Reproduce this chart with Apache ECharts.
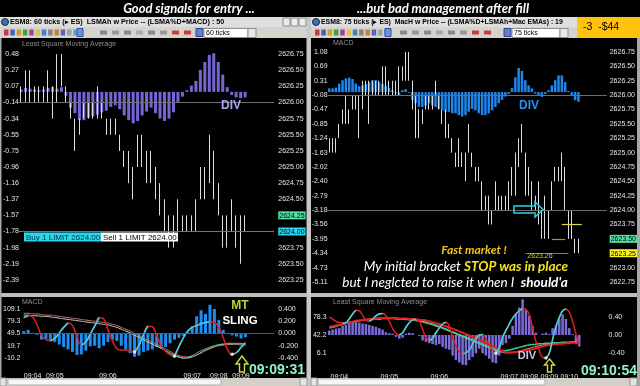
<!DOCTYPE html>
<html><head><meta charset="utf-8">
<script src="https://cdn.jsdelivr.net/npm/echarts@6/dist/echarts.min.js"></script>
<style>html,body{margin:0;padding:0;background:#000;}#c{width:640px;height:386px;}</style>
</head><body><div id="c"></div>
<script>
// ---------------- DATA ----------------
// Left window (60 tick bars)
const leftLow  = [2626.00,2626.00,2626.00,2626.00,2626.00,2626.00,2626.00,2625.75,2626.00,2626.25,2626.00,2625.75,2625.25,2625.50,2625.75,2625.75,2625.75,2625.75,2625.75,2625.50,2625.50,2625.50,2625.25,2625.00,2624.75,2624.50,2625.00,2625.00,2624.75,2624.75,2624.50,2624.25,2624.00,2623.75,2623.75,2624.00,2624.00,2624.00,2624.00,2624.00,2624.50,2624.50,2624.75,2624.50,2624.25,2623.75,2623.75,2624.00,2623.75,2623.50,2624.00];
const leftHigh = [2626.25,2626.50,2626.50,2626.25,2626.25,2626.25,2626.50,2626.25,2626.75,2626.75,2626.25,2626.00,2625.75,2625.75,2626.00,2626.00,2626.00,2626.25,2626.00,2625.75,2625.75,2625.75,2625.50,2625.25,2625.25,2625.00,2625.50,2625.50,2625.25,2625.25,2625.00,2624.75,2624.50,2624.25,2624.25,2624.50,2624.25,2624.25,2624.25,2624.50,2625.00,2625.00,2625.50,2625.25,2624.75,2624.25,2624.25,2624.50,2624.25,2624.25,2624.25];
const leftHist = [0.03,0.05,0.04,0.03,0.02,0.03,0.05,0.06,0.04,0.06,-0.05,-0.20,-0.27,-0.36,-0.36,-0.33,-0.31,-0.29,-0.26,-0.24,-0.19,-0.17,-0.22,-0.30,-0.36,-0.40,-0.37,-0.30,-0.25,-0.20,-0.27,-0.34,-0.37,-0.34,-0.26,-0.14,-0.06,0.02,0.08,0.14,0.28,0.38,0.47,0.49,0.38,0.22,0.06,-0.04,-0.07,-0.08,-0.07];
const leftMacdHist = [0.04,0.06,0.01,-0.02,-0.10,-0.09,-0.11,-0.14,-0.18,-0.22,-0.26,-0.30,-0.35,-0.34,-0.28,-0.21,-0.20,-0.24,-0.20,-0.14,-0.10,-0.12,-0.20,-0.26,-0.32,-0.38,-0.36,-0.30,-0.28,-0.26,-0.22,-0.24,-0.22,-0.16,-0.10,-0.07,-0.04,0.02,0.12,0.28,0.38,0.32,0.47,0.40,0.22,0.06,0.00,-0.03,-0.05,-0.08,-0.06];
const leftOsc = [0.26,0.29,0.27,0.14,-0.03,-0.10,-0.12,-0.08,0.01,0.10,0.17,0.13,-0.05,-0.19,-0.14,-0.01,0.12,0.26,0.24,0.06,-0.12,-0.25,-0.27,-0.27,-0.29,-0.30,-0.19,-0.02,0.12,0.11,-0.03,-0.20,-0.29,-0.35,-0.37,-0.21,-0.07,0.04,0.10,0.13,0.16,0.18,0.19,0.18,0.10,-0.07,-0.27,-0.34,-0.31,-0.23,-0.15];
const leftSlowA = [0.33,0.33,0.32,0.32,0.31,0.30,0.30,0.29,0.28,0.27,0.26,0.25,0.24,0.23,0.22,0.21,0.20,0.19,0.18,0.17,0.15,0.13,0.10,0.07,0.04,0.00,-0.03,-0.07,-0.11,-0.14,-0.18,-0.21,-0.25,-0.29,-0.33,-0.36,-0.38,-0.38,-0.37,-0.35,-0.32,-0.28,-0.25,-0.22,-0.20,-0.19,-0.18,-0.18,-0.18,-0.19,-0.19];
const leftSlowB = [0.30,0.30,0.29,0.29,0.28,0.28,0.27,0.26,0.25,0.24,0.23,0.22,0.21,0.20,0.19,0.18,0.17,0.16,0.15,0.14,0.12,0.10,0.07,0.04,0.01,-0.03,-0.06,-0.10,-0.14,-0.17,-0.21,-0.24,-0.28,-0.32,-0.35,-0.38,-0.40,-0.40,-0.38,-0.35,-0.31,-0.27,-0.24,-0.21,-0.19,-0.18,-0.17,-0.17,-0.17,-0.17,-0.18];
const leftSlowG = [null,null,null,null,null,null,null,null,null,null,null,null,null,null,null,null,null,null,null,null,null,null,null,null,null,null,null,null,null,null,-0.20,-0.24,-0.28,-0.32,-0.36,-0.39,-0.40,-0.39,-0.36,-0.32,-0.28,-0.25,-0.22,-0.20,-0.18,-0.17,-0.16,-0.16,-0.16,-0.16,-0.17];
const leftSignals = [25,34,47];
const leftBarCount = 57;
const leftPriceTicks = ['2623.25','2623.50','2623.75','2624.00','2624.25','2624.50','2624.75','2625.00','2625.25','2625.50','2625.75','2626.00','2626.25','2626.50','2626.75'];
const leftMacdTicks  = ['-2.39','-2.19','-1.98','-1.78','-1.57','-1.37','-1.16','-0.96','-0.75','-0.55','-0.34','-0.14','0.07','0.27','0.48'];
const leftPriceTags = {'2624.25':'g','2624.00':'c'};
const leftBottomVals = [-0.4,-0.2,0,0.2,0.4];
const leftBottomRight = ['-0.400','-0.200','0.000','0.200','0.400'];
const leftBottomLeft  = ['-10.2','19.7','49.5','79.3','109.1'];
const leftTimeIdx = [2,7,19,38,44,49];
const leftTimes = ['09:04','09:05','09:06','09:07','09:08','09:09'];

// Right window (75 tick bars)
const rightLow  = [2625.00,2625.00,2625.00,2625.25,2625.50,2625.50,2625.50,2625.75,2625.75,2625.25,2625.75,2626.00,2625.50,2626.00,2626.00,2626.00,2626.00,2626.00,2626.00,2626.00,2626.00,2626.00,2626.25,2626.25,2626.25,2625.75,2625.25,2625.25,2625.50,2625.75,2625.75,2625.75,2626.00,2625.75,2625.50,2625.25,2625.25,2625.00,2624.75,2624.75,2624.75,2624.50,2625.00,2624.75,2624.50,2624.50,2624.00,2624.00,2623.75,2623.75,2624.00,2624.00,2624.00,2624.00,2624.00,2624.25,2624.25,2624.75,2625.00,2624.25,2624.25,2624.00,2624.00,2623.75,2623.50,2623.50,2623.50,2624.00,2624.50,2624.50,2624.50,2624.00,2623.50,2623.50,2623.25,2623.25];
const rightHigh = [2625.25,2625.25,2625.25,2625.50,2625.75,2626.00,2625.75,2626.00,2626.00,2626.00,2626.25,2626.25,2626.25,2626.25,2626.25,2626.25,2626.50,2626.50,2626.25,2626.25,2626.25,2626.50,2626.50,2626.75,2626.75,2626.25,2626.00,2625.75,2625.75,2626.00,2626.00,2626.00,2626.25,2626.00,2625.75,2625.75,2625.50,2625.25,2625.00,2625.25,2625.00,2625.00,2625.50,2625.00,2624.75,2624.75,2624.50,2624.25,2624.25,2624.00,2624.50,2624.25,2624.25,2624.25,2624.50,2624.75,2625.00,2625.25,2625.50,2625.00,2624.75,2624.50,2624.25,2624.50,2624.00,2624.25,2624.00,2624.50,2624.75,2624.75,2625.00,2624.75,2624.00,2624.00,2623.50,2623.50];
const rightHist = [0.10,0.10,0.12,0.23,0.32,0.37,0.39,0.35,0.23,0.16,0.18,0.22,0.27,0.32,0.32,0.27,0.22,0.17,0.11,0.05,-0.04,-0.10,0.05,0.08,-0.02,-0.21,-0.30,-0.40,-0.40,-0.36,-0.30,-0.36,-0.40,-0.45,-0.49,-0.53,-0.53,-0.57,-0.57,-0.62,-0.66,-0.62,-0.53,-0.45,-0.49,-0.57,-0.62,-0.62,-0.57,-0.49,-0.40,-0.30,-0.21,-0.12,-0.05,0.11,0.40,0.65,0.57,0.32,0.18,0.10,-0.04,-0.10,-0.13,-0.05,0.05,0.18,0.32,0.45,0.45,0.27,0.03,-0.10,-0.22,-0.26];
const rightBottomHist = [0.10,0.12,0.14,0.15,0.20,0.22,0.25,0.30,0.30,0.27,0.25,0.24,0.22,0.20,0.18,0.15,0.12,0.06,0.04,0.03,-0.04,-0.08,-0.06,0.03,0.05,0.04,0.00,-0.02,-0.12,-0.15,-0.18,-0.20,-0.22,-0.20,-0.26,-0.30,-0.32,-0.45,-0.55,-0.60,-0.65,-0.66,-0.55,-0.48,-0.40,-0.30,-0.40,-0.45,-0.52,-0.60,-0.62,-0.45,-0.22,-0.18,-0.08,0.20,0.45,0.60,0.78,0.55,0.42,0.20,0.05,0.00,0.03,0.05,0.02,0.15,0.22,0.35,0.45,0.35,0.15,0.02,-0.20,-0.25];
const rightOsc = [0.39,0.35,0.30,0.27,0.26,0.27,0.35,0.46,0.54,0.53,0.43,0.32,0.30,0.35,0.42,0.46,0.47,0.42,0.30,0.14,0.04,0.00,0.05,0.17,0.27,0.33,0.35,0.31,0.12,-0.06,-0.12,-0.07,0.05,0.15,0.24,0.28,0.20,-0.05,-0.24,-0.36,-0.41,-0.39,-0.33,-0.20,-0.08,0.00,0.01,-0.09,-0.22,-0.33,-0.40,-0.28,-0.05,0.10,0.24,0.37,0.46,0.53,0.58,0.56,0.45,0.15,-0.14,-0.34,-0.49,-0.50,-0.40,-0.10,0.18,0.38,0.53,0.57,0.50,0.30,0.02,-0.20];
const rightSlowRed = [0.18,0.19,0.21,0.22,0.24,0.26,0.28,0.29,0.31,0.32,0.33,0.34,0.35,0.35,0.36,0.37,0.37,0.37,0.37,0.37,0.37,0.36,0.36,0.36,0.35,0.35,0.34,0.33,0.33,0.32,0.30,0.28,0.26,0.24,0.21,0.19,0.16,0.14,0.11,0.08,0.05,0.02,-0.01,-0.04,-0.07,-0.10,-0.14,-0.17,-0.21,-0.25,-0.28,-0.32,-0.35,-0.37,-0.38,-0.38,-0.37,-0.36,-0.35,-0.34,-0.33,-0.31,-0.29,-0.27,-0.25,-0.23,-0.22,-0.21,-0.20,-0.19,-0.19,-0.18,-0.18,-0.17,-0.17,-0.18];
const rightSlowWhite = [0.16,0.18,0.20,0.22,0.24,0.26,0.27,0.29,0.30,0.31,0.32,0.33,0.34,0.34,0.35,0.35,0.36,0.36,0.36,0.36,0.35,0.35,0.34,0.34,0.33,0.32,0.31,0.30,0.28,0.26,0.24,0.22,0.19,0.17,0.14,0.11,0.08,0.05,0.02,-0.01,-0.04,-0.07,-0.10,-0.13,-0.16,-0.19,-0.22,-0.25,-0.28,-0.31,-0.34,-0.36,-0.38,-0.39,-0.39,-0.38,-0.37,-0.35,-0.33,-0.31,-0.29,-0.27,-0.25,-0.23,-0.22,-0.21,-0.20,-0.19,-0.18,-0.18,-0.17,-0.17,-0.16,-0.16,-0.16,-0.17];
const rightSlowGreen = [0.15,0.17,0.19,0.21,0.23,0.25,0.27,0.28,0.30,0.31,0.32,0.33,0.34,0.34,0.35,0.35,0.36,0.36,0.36,0.36,0.36,0.35,0.35,0.34,0.34,0.33,0.32,0.31,0.30,0.28,0.26,0.24,0.21,0.19,0.16,0.13,0.10,0.07,0.04,0.01,-0.02,-0.05,-0.08,-0.11,-0.14,-0.17,-0.20,-0.23,-0.26,-0.29,-0.31,-0.33,-0.34,-0.34,-0.33,-0.31,-0.29,-0.27,-0.25,-0.23,-0.22,-0.21,-0.20,-0.19,-0.19,-0.18,-0.18,-0.17,-0.17,-0.17,-0.16,-0.16,-0.16,-0.15,-0.15,-0.16];
const rightSignals = [50,65];
const rightBarCount = 84;
const rightPriceTicks = ['2622.75','2623.00','2623.25','2623.50','2623.75','2624.00','2624.25','2624.50','2624.75','2625.00','2625.25','2625.50','2625.75','2626.00','2626.25','2626.50','2626.75'];
const rightMacdTicks  = ['-5.11','-4.73','-4.34','-3.95','-3.56','-3.18','-2.79','-2.40','-2.02','-1.63','-1.24','-0.85','-0.47','-0.08','0.31','0.69','1.08'];
const rightPriceTags = {'2623.50':'g','2623.25':'y'};
const rightBottomVals = [-0.4,0,0.4];
const rightBottomRight = ['-0.40','0.00','0.40'];
const rightBottomLeft  = ['6.1','42.2','78.3'];
const rightTimeIdx = [3,18,33,54,60,66,72];
const rightTimes = ['09:04','09:05','09:06','09:07','09:08','09:09','09:10'];
// order / stop levels drawn on the right price chart: [fromBar, toBar, price, colour]
const rightLevels = [[70,76,2623.75,'#e6d44a'],[67,71,2623.50,'#a89632'],[59,72,2623.25,'#8a7a26']];

// ---------------- HELPERS ----------------
const LBL = '#e6e6e6', FONT = 'Liberation Sans', BARC = '#dcdcdc';
function cats(n){ return Array.from({length:n},(_,i)=>String(i)); }
function candles(lo,hi){ return lo.map((l,i)=>[l,hi[i],l,hi[i]]); }
function rising(a){ return a.map((v,i)=>((i>0&&a[i]>a[i-1])||(i<a.length-1&&a[i+1]>a[i]))?v:null); }
function priceFmt(ticks,tags){ return v=>{ const s=v.toFixed(2); if(ticks.indexOf(s)<0) return ''; return tags[s]?'{'+tags[s]+'|'+s+'}':s; }; }
function mapFmt(ticks,labels){ return v=>{ const i=ticks.indexOf(v.toFixed(2)); return i<0?'':labels[i]; }; }
function valFmt(vals,labels){ return v=>{ for(let i=0;i<vals.length;i++){ if(Math.abs(vals[i]-v)<1e-6) return labels[i]; } return ''; }; }
function timeFmt(idx,lab){ return (v,i)=>{ const k=idx.indexOf(i); return k<0?'':lab[k]; }; }
function macdRange(ticks,steps){ const a=parseFloat(ticks[0]), b=parseFloat(ticks[ticks.length-1]); const st=(b-a)/(ticks.length-1); return [a-st*steps[0], b+st*steps[1]]; }
const rich = {g:{backgroundColor:'#4fe0a4',color:'#000',padding:[1,1,0,1],fontSize:7,fontFamily:FONT},
              c:{backgroundColor:'#2ad6ee',color:'#000',padding:[1,1,0,1],fontSize:7,fontFamily:FONT},
              y:{backgroundColor:'#fbf628',color:'#000',padding:[1,1,0,1],fontSize:7,fontFamily:FONT}};
const lRange = macdRange(leftMacdTicks,[1,1]);
const rRange = macdRange(rightMacdTicks,[1,1]);

function yA(grid,pos,min,max,interval,fmt,margin,show){
  return {gridIndex:grid,type:'value',position:pos,min,max,interval,show:show!==false,scale:true,
    axisLine:{show:false},axisTick:{show:false},splitLine:{show:false},
    axisLabel:{color:LBL,fontSize:7,fontFamily:FONT,formatter:fmt,margin,rich}};
}
function xA(grid,n,fmt){
  return {gridIndex:grid,type:'category',data:cats(n),boundaryGap:true,
    axisLine:{show:false},axisTick:{show:false},splitLine:{show:false},
    axisLabel:fmt?{show:true,interval:0,color:LBL,fontSize:7,fontFamily:FONT,margin:2,formatter:fmt}:{show:false}};
}
function hLine(v,color,w){ return {yAxis:v,lineStyle:{color,width:w||1,type:'solid'}}; }
const candleStyle = {color:BARC,color0:BARC,borderColor:BARC,borderColor0:BARC,borderWidth:1};

// ---------------- GRAPHICS (frame, annotations) ----------------
const G=[];
function rect(x,y,w,h,fill,stroke,z){ G.push({type:'rect',shape:{x,y,width:w,height:h},style:{fill,stroke:stroke||null,lineWidth:stroke?1:0},z:z||50,silent:true}); }
function txt(x,y,s,font,fill,extra){ G.push({type:'text',x,y,style:Object.assign({text:s,font,fill,verticalAlign:'middle',align:'left'},extra||{}),z:60,silent:true}); }
function poly(pts,stroke,w){ G.push({type:'polygon',shape:{points:pts},style:{fill:null,stroke,lineWidth:w},z:60,silent:true}); }

// titles
txt(189,9,'Good signals for entry ...','italic bold 13px Lato','#fff',{align:'center'});
txt(443,9,'...but bad management after fill','italic bold 13px Lato','#fff',{align:'center'});
// window title bars
rect(0,17,307,10,'#dedede'); rect(311,17,266,10,'#dedede');
G.push({type:'circle',shape:{cx:5,cy:22,r:3.5},style:{fill:'#3d6fb5',stroke:'#223'},z:55,silent:true});
G.push({type:'circle',shape:{cx:316,cy:22,r:3.5},style:{fill:'#3d6fb5',stroke:'#223'},z:55,silent:true});
txt(10,22.5,'ESM8: 60 ticks (\u25B8 ES)  LSMAh w Price -- (LSMA%D+MACD) : 50','bold 7.2px Liberation Sans','#000');
txt(321,22.5,'ESM8: 75 ticks (\u25B8 ES)  MacH w Price -- (LSMA%D+LSMAh+Mac EMAs) : 19','bold 6.9px Liberation Sans','#000');
[283,291,299].forEach(x=>rect(x,18,7,8,'#ececec','#8a8a8a',55));
// toolbars
rect(0,27,307,11,'#d6d3cc'); rect(311,27,266,11,'#d6d3cc'); rect(577,27,63,11,'#d6d3cc');
const iconCols=['#c04040','#4060c0','#d0a020','#40a040','#a040a0','#e0c040','#4080c0','#808080','#c08040','#6060c0','#a0a0a0','#5aa0e0'];
iconCols.forEach((c,i)=>{ rect(4+i*6.3,29.5,4.5,6,c,null,55); rect(315+i*6.3,29.5,4.5,6,c,null,55); });
rect(77,28.5,6,8,'#7090e0','#3050a0',55); rect(385,28.5,6,8,'#7090e0','#3050a0',55);
['#888','#999','#888','#aaa','#888','#999','#c04040','#c04040'].forEach((c,i)=>{ rect(100+i*12,30.5,7,4,c,null,55); rect(400+i*12,30.5,7,4,c,null,55); });
rect(196,28.5,7,8,'#6080d0','#304080',55); rect(204,28.5,44,9,'#fff','#909090',55); txt(206,33,'60 ticks','7px Liberation Sans','#000');
rect(248,28.5,8,9,'#e8e8e8','#909090',55);
rect(504,28.5,7,8,'#6080d0','#304080',55); rect(512,28.5,48,9,'#fff','#909090',55); txt(514,33,'75 ticks','7px Liberation Sans','#000');
rect(560,28.5,8,9,'#e8e8e8','#909090',55);
// P&L box
rect(577,17,63,21,'#ffc20e'); txt(583,27.5,'-3  -$44','10.5px Liberation Sans','#000');
// panel captions
txt(22,44,'Least Square Moving Average','7px Liberation Sans','#8e8e8e');
txt(333,43,'MACD','7px Liberation Sans','#8e8e8e');
txt(22,302,'MACD','7px Liberation Sans','#8e8e8e');
txt(333,302,'Least Square Moving Average','7px Liberation Sans','#8e8e8e');
// separators / frame
rect(0,293,307,4,'#bdbdbd'); rect(311,293,329,4,'#bdbdbd');
rect(306.5,17,4.5,369,'#c8c8c8'); rect(637,38,3,348,'#a8a8a8'); rect(0,38,1.5,348,'#a8a8a8');
// scroll bars
rect(0,378,307,8,'#d4d0c8'); rect(8,379,213,6,'#f6f6f6','#b0b0b0',55); rect(0,378,6,8,'#e4e4e4','#999',55); rect(300,378,7,8,'#e4e4e4','#999',55);
rect(311,378,326,8,'#d4d0c8'); rect(318,379,227,6,'#f6f6f6','#b0b0b0',55); rect(311,378,6,8,'#e4e4e4','#999',55); rect(630,378,7,8,'#e4e4e4','#999',55);
// order tickets
rect(24,232.5,77,9,'#2ad6ee'); txt(26,237.5,'Buy 1 LIMIT 2624.00','8px Liberation Sans','#05303a');
rect(101,232.5,77,9,'#ffffff'); txt(103,237.5,'Sell 1 LIMIT 2624.00','8px Liberation Sans','#000');
// annotations
txt(231,106,'DIV','bold 12px Liberation Sans','#a6a6f2',{align:'center'});
txt(529,106,'DIV','bold 12px Liberation Sans','#2a8ff0',{align:'center'});
txt(527,356,'DIV','bold 11px Liberation Sans','#c8c8ea',{align:'center'});
txt(240,306,'MT','bold 12px Liberation Sans','#b6d82a',{align:'center'});
txt(240,321,'SLING','bold 11.5px Liberation Sans','#fff',{align:'center'});
txt(277,370,'09:09:31','bold 14px Liberation Sans','#8ff2c6',{align:'center'});
txt(609,371,'09:10:54','bold 14px Liberation Sans','#8ff2c6',{align:'center'});
txt(474,250,'Fast market !','italic bold 12px Lato','#f2c21c',{align:'center'});
G.push({type:'text',x:466,y:267,z:60,silent:true,style:{text:'{w|My initial bracket }{y|STOP was in place}',align:'center',verticalAlign:'middle',
  rich:{w:{font:'italic 13.5px Lato',fill:'#fff'},y:{font:'italic bold 13.5px Lato',fill:'#f6e21e'}}}});
G.push({type:'text',x:455,y:283,z:60,silent:true,style:{text:'{w|but I neglcted to raise it when I  }{b|should\'a}',align:'center',verticalAlign:'middle',
  rich:{w:{font:'italic 13.5px Lato',fill:'#fff'},b:{font:'italic bold 13.5px Lato',fill:'#fff'}}}});
txt(540,256.5,'2623.26','7px Liberation Sans','#e0d040',{align:'center'});
// arrows
poly([[242,356],[248,364],[244.5,364],[244.5,372],[239.5,372],[239.5,364],[236,364]],'#c8e040',1.4);
poly([[549.5,359],[554.5,365],[551.5,365],[551.5,372],[547.5,372],[547.5,365],[544.5,365]],'#c8e040',1.4);
poly([[514,206],[535,206],[535,202],[543,209.5],[535,217],[535,213],[514,213]],'#2ed2e2',1.5);

// ---------------- OPTION ----------------
const option = {
  backgroundColor:'#000',
  animation:false,
  grid:[
    {left:17.75,top:38,width:leftBarCount*4.5,height:258},
    {left:17.75,top:296.75,width:leftBarCount*4.5,height:73.5},
    {left:327.6,top:37.6,width:rightBarCount*3.3333,height:258.75},
    {left:327.6,top:298.4,width:rightBarCount*3.3333,height:73.2}
  ],
  xAxis:[
    xA(0,leftBarCount), xA(1,leftBarCount,timeFmt(leftTimeIdx,leftTimes)),
    xA(2,rightBarCount), xA(3,rightBarCount,timeFmt(rightTimeIdx,rightTimes))
  ],
  yAxis:[
    yA(0,'right',2623,2627,0.25,priceFmt(leftPriceTicks,leftPriceTags),4),
    yA(0,'left',2623,2627,0.25,mapFmt(leftPriceTicks,leftMacdTicks),0),
    yA(0,'left',lRange[0],lRange[1],null,null,0,false),
    yA(1,'right',-0.6,0.6,0.2,valFmt(leftBottomVals,leftBottomRight),4),
    yA(1,'left',-0.6,0.6,0.2,valFmt(leftBottomVals,leftBottomLeft),1),
    yA(2,'right',2622.5,2627,0.25,priceFmt(rightPriceTicks,rightPriceTags),3),
    yA(2,'left',2622.5,2627,0.25,mapFmt(rightPriceTicks,rightMacdTicks),0),
    yA(2,'left',rRange[0],rRange[1],null,null,0,false),
    yA(3,'right',-0.8,0.8,0.4,valFmt(rightBottomVals,rightBottomRight),1),
    yA(3,'left',-0.8,0.8,0.4,valFmt(rightBottomVals,rightBottomLeft),1)
  ],
  series:[
    // left main
    {type:'bar',xAxisIndex:0,yAxisIndex:2,data:leftHist,barWidth:3,itemStyle:{color:'#7467d4'},z:1},
    {type:'candlestick',xAxisIndex:0,yAxisIndex:0,data:candles(leftLow,leftHigh),barWidth:1.2,z:3,itemStyle:candleStyle,
      markLine:{silent:true,symbol:'none',label:{show:false},data:[hLine(2626.00,'#6e6e6e'),hLine(2624.00,'#2f9a6a')]}},
    // left bottom
    {type:'bar',xAxisIndex:1,yAxisIndex:3,data:leftMacdHist,barWidth:3,itemStyle:{color:'#1e8cf0'},z:1,
      markLine:{silent:true,symbol:'none',label:{show:false},data:[hLine(0,'#5a5a5a')]}},
    {type:'line',xAxisIndex:1,yAxisIndex:3,data:leftSlowB,smooth:true,showSymbol:false,lineStyle:{color:'#cfcfcf',width:1},z:2},
    {type:'line',xAxisIndex:1,yAxisIndex:3,data:leftSlowA,smooth:true,showSymbol:false,lineStyle:{color:'#d27272',width:1},z:2},
    {type:'line',xAxisIndex:1,yAxisIndex:3,data:leftSlowG,smooth:true,showSymbol:false,lineStyle:{color:'#46c48a',width:1},z:2},
    {type:'line',xAxisIndex:1,yAxisIndex:3,data:leftOsc,smooth:0.4,showSymbol:false,lineStyle:{color:'#e21e1e',width:1.5},z:3},
    {type:'line',xAxisIndex:1,yAxisIndex:3,data:rising(leftOsc),smooth:0.4,showSymbol:false,connectNulls:false,lineStyle:{color:'#32e0ec',width:1.5},z:4},
    {type:'scatter',xAxisIndex:1,yAxisIndex:3,data:leftSignals.map(i=>[i,leftOsc[i]]),symbolSize:3.5,itemStyle:{color:'#fff'},z:5},
    // right main
    {type:'bar',xAxisIndex:2,yAxisIndex:7,data:rightHist,barWidth:2.5,itemStyle:{color:'#1e86ec'},z:1},
    {type:'candlestick',xAxisIndex:2,yAxisIndex:5,data:candles(rightLow,rightHigh),barWidth:1.2,z:3,itemStyle:candleStyle,
      markLine:{silent:true,symbol:'none',label:{show:false},data:[hLine(2626.00,'#6e6e6e'),hLine(2624.00,'#6e6e6e')].concat(
        rightLevels.map(l=>[{coord:[l[0],l[2]],lineStyle:{color:l[3],width:1.2,type:'solid'}},{coord:[l[1],l[2]]}]))}},
    // right bottom
    {type:'bar',xAxisIndex:3,yAxisIndex:8,data:rightBottomHist,barWidth:2.5,itemStyle:{color:'#7b6cd8'},z:1},
    {type:'line',xAxisIndex:3,yAxisIndex:8,data:rightSlowWhite,smooth:true,showSymbol:false,lineStyle:{color:'#bdbdbd',width:1},z:2},
    {type:'line',xAxisIndex:3,yAxisIndex:8,data:rightSlowGreen,smooth:true,showSymbol:false,lineStyle:{color:'#46c88c',width:1.5},z:2},
    {type:'line',xAxisIndex:3,yAxisIndex:8,data:rightSlowRed,smooth:true,showSymbol:false,lineStyle:{color:'#e02222',width:2},z:2},
    {type:'line',xAxisIndex:3,yAxisIndex:8,data:rightOsc,smooth:0.4,showSymbol:false,lineStyle:{color:'#e21e1e',width:1.5},z:3},
    {type:'line',xAxisIndex:3,yAxisIndex:8,data:rising(rightOsc),smooth:0.4,showSymbol:false,connectNulls:false,lineStyle:{color:'#32e0ec',width:1.5},z:4},
    {type:'scatter',xAxisIndex:3,yAxisIndex:8,data:rightSignals.map(i=>[i,rightOsc[i]]),symbolSize:3.5,itemStyle:{color:'#fff'},z:5}
  ],
  graphic:G
};
const chart = echarts.init(document.getElementById('c'),null,{renderer:'canvas',width:640,height:386});
chart.setOption(option);
</script></body></html>
